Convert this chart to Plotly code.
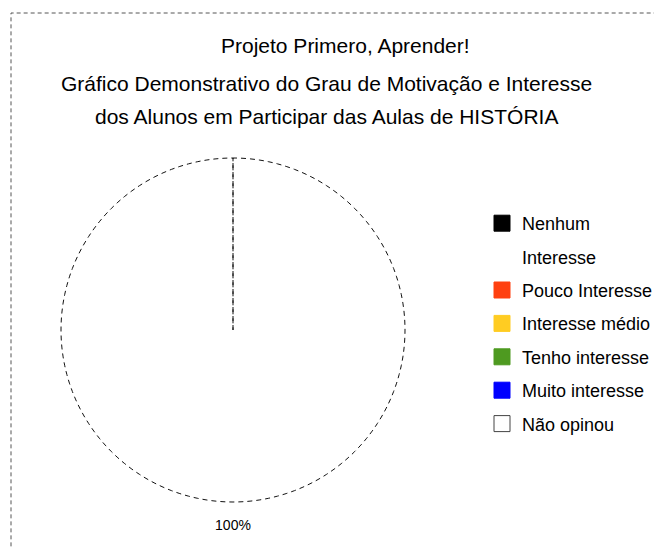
import numpy as np
import plotly.graph_objects as go

# dados do gráfico
categorias = ["Nenhum<br>Interesse", "Pouco Interesse", "Interesse médio",
              "Tenho interesse", "Muito interesse", "Não opinou"]
valores = [0, 0, 0, 0, 0, 100]
cores = ["#000000", "#ff4010", "#ffcc22", "#4e9a20", "#0000ff", "#ffffff"]

titulo = "Projeto Primero, Aprender!"
subtitulo = ["Gráfico Demonstrativo do Grau de Motivação e Interesse",
             "dos Alunos em Participar das Aulas de HISTÓRIA"]

W, H = 662, 549
OFF = 8  # margem padrão do <body> na página
FONTE = "Liberation Sans, Arial, sans-serif"


def px(x):
    return (x - OFF) / W


def py(y):
    return 1 - (y - OFF) / H


# domínio do gráfico de pizza (quadrado em pixels)
cx, cy, raio = 233, 330, 172
RMAX = 1.2
rd = raio * RMAX
dom_x = [px(cx - rd), px(cx + rd)]
dom_y = [py(cy + rd), py(cy - rd)]

fig = go.Figure()

total = sum(valores)
inicio = 0.0
for cat, v, cor in zip(categorias, valores, cores):
    if v <= 0:
        continue
    fim = inicio + v / total * 360
    arco = np.linspace(inicio, fim, 241)
    theta = np.concatenate([[inicio], [inicio], arco, [fim]])
    r = np.concatenate([[0], [1], np.ones_like(arco), [0]])
    fig.add_trace(go.Scatterpolar(
        r=r, theta=theta, mode="lines", fill="toself", fillcolor=cor,
        line=dict(color="#111111", width=1, dash="5px,4px"),
        showlegend=False, hoverinfo="skip"))
    meio = (inicio + fim) / 2
    fig.add_trace(go.Scatterpolar(
        r=[1.145], theta=[meio], mode="text",
        text=[f"{v / total * 100:.0f}%"],
        textfont=dict(size=14, color="#000000", family=FONTE),
        showlegend=False, hoverinfo="skip"))
    inicio = fim

# legenda (rótulos de duas linhas viram duas entradas, como no original)
g = 0
for cat, cor in zip(categorias, cores):
    for j, parte in enumerate(cat.split("<br>")):
        borda = "#444444" if cor == "#ffffff" else cor
        mk = dict(symbol="square", size=16, color=cor, line=dict(color=borda, width=1))
        if j > 0:
            mk = dict(symbol="square", size=16, color="rgba(0,0,0,0)",
                      line=dict(color="rgba(0,0,0,0)", width=0))
        fig.add_trace(go.Scatterpolar(
            r=[None], theta=[None], mode="markers", name=parte,
            legendgroup=str(g), marker=mk))
        g += 1

fig.update_layout(
    width=W, height=H,
    margin=dict(l=0, r=0, t=0, b=0),
    paper_bgcolor="white",
    font=dict(family=FONTE, color="#000000"),
    polar=dict(
        domain=dict(x=dom_x, y=dom_y),
        bgcolor="rgba(0,0,0,0)",
        radialaxis=dict(range=[0, RMAX], visible=False, showgrid=False),
        angularaxis=dict(visible=False, showgrid=False, rotation=90,
                         direction="clockwise", showline=False),
    ),
    legend=dict(
        x=px(482), y=py(205), xanchor="left", yanchor="top",
        font=dict(size=18, family=FONTE),
        traceorder="grouped", tracegroupgap=7, valign="middle",
        bgcolor="rgba(0,0,0,0)", itemclick=False,
    ),
    annotations=[
        dict(text=titulo, x=px(345), y=py(45), xref="paper", yref="paper",
             showarrow=False, font=dict(size=21), xanchor="center", yanchor="middle"),
        dict(text=subtitulo[0], x=px(326), y=py(84), xref="paper", yref="paper",
             showarrow=False, font=dict(size=21), xanchor="center", yanchor="middle"),
        dict(text=subtitulo[1], x=px(326), y=py(116), xref="paper", yref="paper",
             showarrow=False, font=dict(size=21), xanchor="center", yanchor="middle"),
    ],
    shapes=[dict(type="rect", xref="paper", yref="paper",
                 x0=px(11), x1=1.05, y0=-0.05, y1=py(13),
                 line=dict(color="#555555", width=1, dash="4px,3px"))],
)

fig.write_html("out.html")
